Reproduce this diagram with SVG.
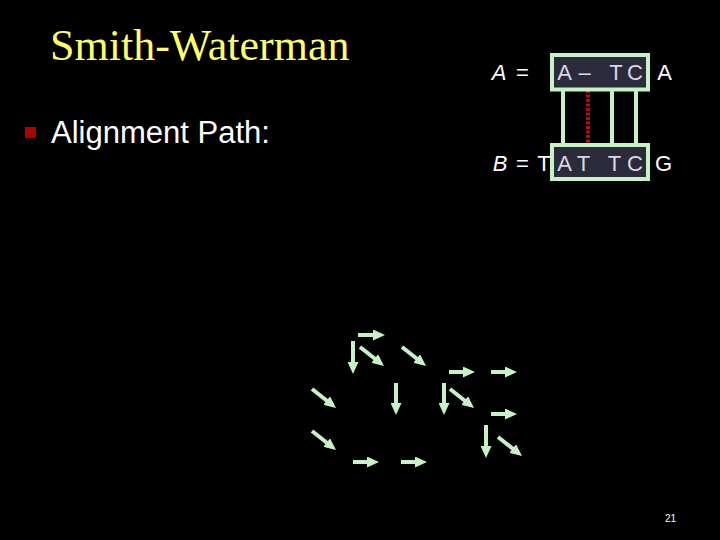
<svg xmlns="http://www.w3.org/2000/svg" width="720" height="540" viewBox="0 0 720 540">
<style>
.title{font-family:"Liberation Sans Narrow","Liberation Serif","Times New Roman",serif;font-size:44px;fill:#ffff66}
.title{font-family:"Liberation Serif","Times New Roman",serif}
.body{font-family:"Liberation Sans",Arial,sans-serif;font-size:31px;fill:#ffffff}
.seq{font-family:"Liberation Sans",Arial,sans-serif;font-size:22px;fill:#ffffff;text-anchor:middle}
.in{fill:#d8d8e6}
.it{font-style:italic}
.box{fill:#2b2b3c;stroke:#c6f2c6;stroke-width:4}
.link{stroke:#c6f2c6;stroke-width:4}
.gap{stroke:#b01010;stroke-width:4;stroke-dasharray:3 1.5}
.arr{stroke:#c6f2c6;stroke-width:4;fill:none;marker-end:url(#head)}
.pg{font-family:"Liberation Sans",Arial,sans-serif;font-size:10px;fill:#ffffff;text-anchor:middle}
</style>
<defs>
<marker id="head" viewBox="0 0 12 10" refX="2" refY="5" markerWidth="12" markerHeight="11" markerUnits="userSpaceOnUse" orient="auto" preserveAspectRatio="none">
<path d="M0,0 L12,5 L0,10 z" fill="#c6f2c6"/>
</marker>
</defs>
<rect x="0" y="0" width="720" height="540" fill="#000000"/>
<g id="title"><text class="title" x="50" y="60">Smith-Waterman</text></g>
<g id="bullet">
<rect x="25" y="127" width="11" height="11" fill="#b00000"/>
<text class="body" x="51" y="143">Alignment Path:</text>
</g>
<g id="alignment">
<g id="links">
<line class="link" x1="563" y1="90" x2="563" y2="146"/>
<line class="gap" x1="588" y1="90" x2="588" y2="146"/>
<line class="link" x1="612" y1="90" x2="612" y2="146"/>
<line class="link" x1="636" y1="90" x2="636" y2="146"/>
</g>
<g id="boxA"><rect class="box" x="552" y="55" width="96" height="34.5"/></g>
<g id="boxB"><rect class="box" x="552" y="145" width="96" height="34"/></g>
<g id="seqA">
<text class="seq it" x="499" y="80">A</text>
<text class="seq" x="522.5" y="80">=</text>
<text class="seq in" x="564.5" y="80">A</text>
<text class="seq in" x="584.5" y="80">–</text>
<text class="seq in" x="616" y="80">T</text>
<text class="seq in" x="635" y="80">C</text>
<text class="seq" x="664.5" y="80">A</text>
</g>
<g id="seqB">
<text class="seq it" x="500" y="171">B</text>
<text class="seq" x="522.5" y="171">=</text>
<text class="seq" x="544" y="171">T</text>
<text class="seq in" x="564.5" y="171">A</text>
<text class="seq in" x="583.5" y="171">T</text>
<text class="seq in" x="614.5" y="171">T</text>
<text class="seq in" x="635" y="171">C</text>
<text class="seq" x="663.5" y="171">G</text>
</g>
</g>
<g id="arrows">
<line class="arr" x1="358" y1="335" x2="375" y2="335"/>
<line class="arr" x1="353" y1="341" x2="353" y2="364"/>
<line class="arr" x1="360" y1="347" x2="376.2" y2="359.8"/>
<line class="arr" x1="402" y1="347" x2="418.2" y2="359.8"/>
<line class="arr" x1="449" y1="372" x2="465" y2="372"/>
<line class="arr" x1="491" y1="372" x2="507" y2="372"/>
<line class="arr" x1="312" y1="389" x2="328.2" y2="401.8"/>
<line class="arr" x1="396" y1="383" x2="396" y2="405"/>
<line class="arr" x1="444" y1="383" x2="444" y2="405"/>
<line class="arr" x1="450" y1="389" x2="466.2" y2="401.8"/>
<line class="arr" x1="491" y1="414" x2="507" y2="414"/>
<line class="arr" x1="312" y1="431" x2="328.2" y2="443.8"/>
<line class="arr" x1="486" y1="425" x2="486" y2="448"/>
<line class="arr" x1="498" y1="437" x2="514.2" y2="449.8"/>
<line class="arr" x1="353" y1="462" x2="369" y2="462"/>
<line class="arr" x1="401" y1="462" x2="417" y2="462"/>
</g>
<g id="page"><text class="pg" x="670.5" y="522">21</text></g>
</svg>
